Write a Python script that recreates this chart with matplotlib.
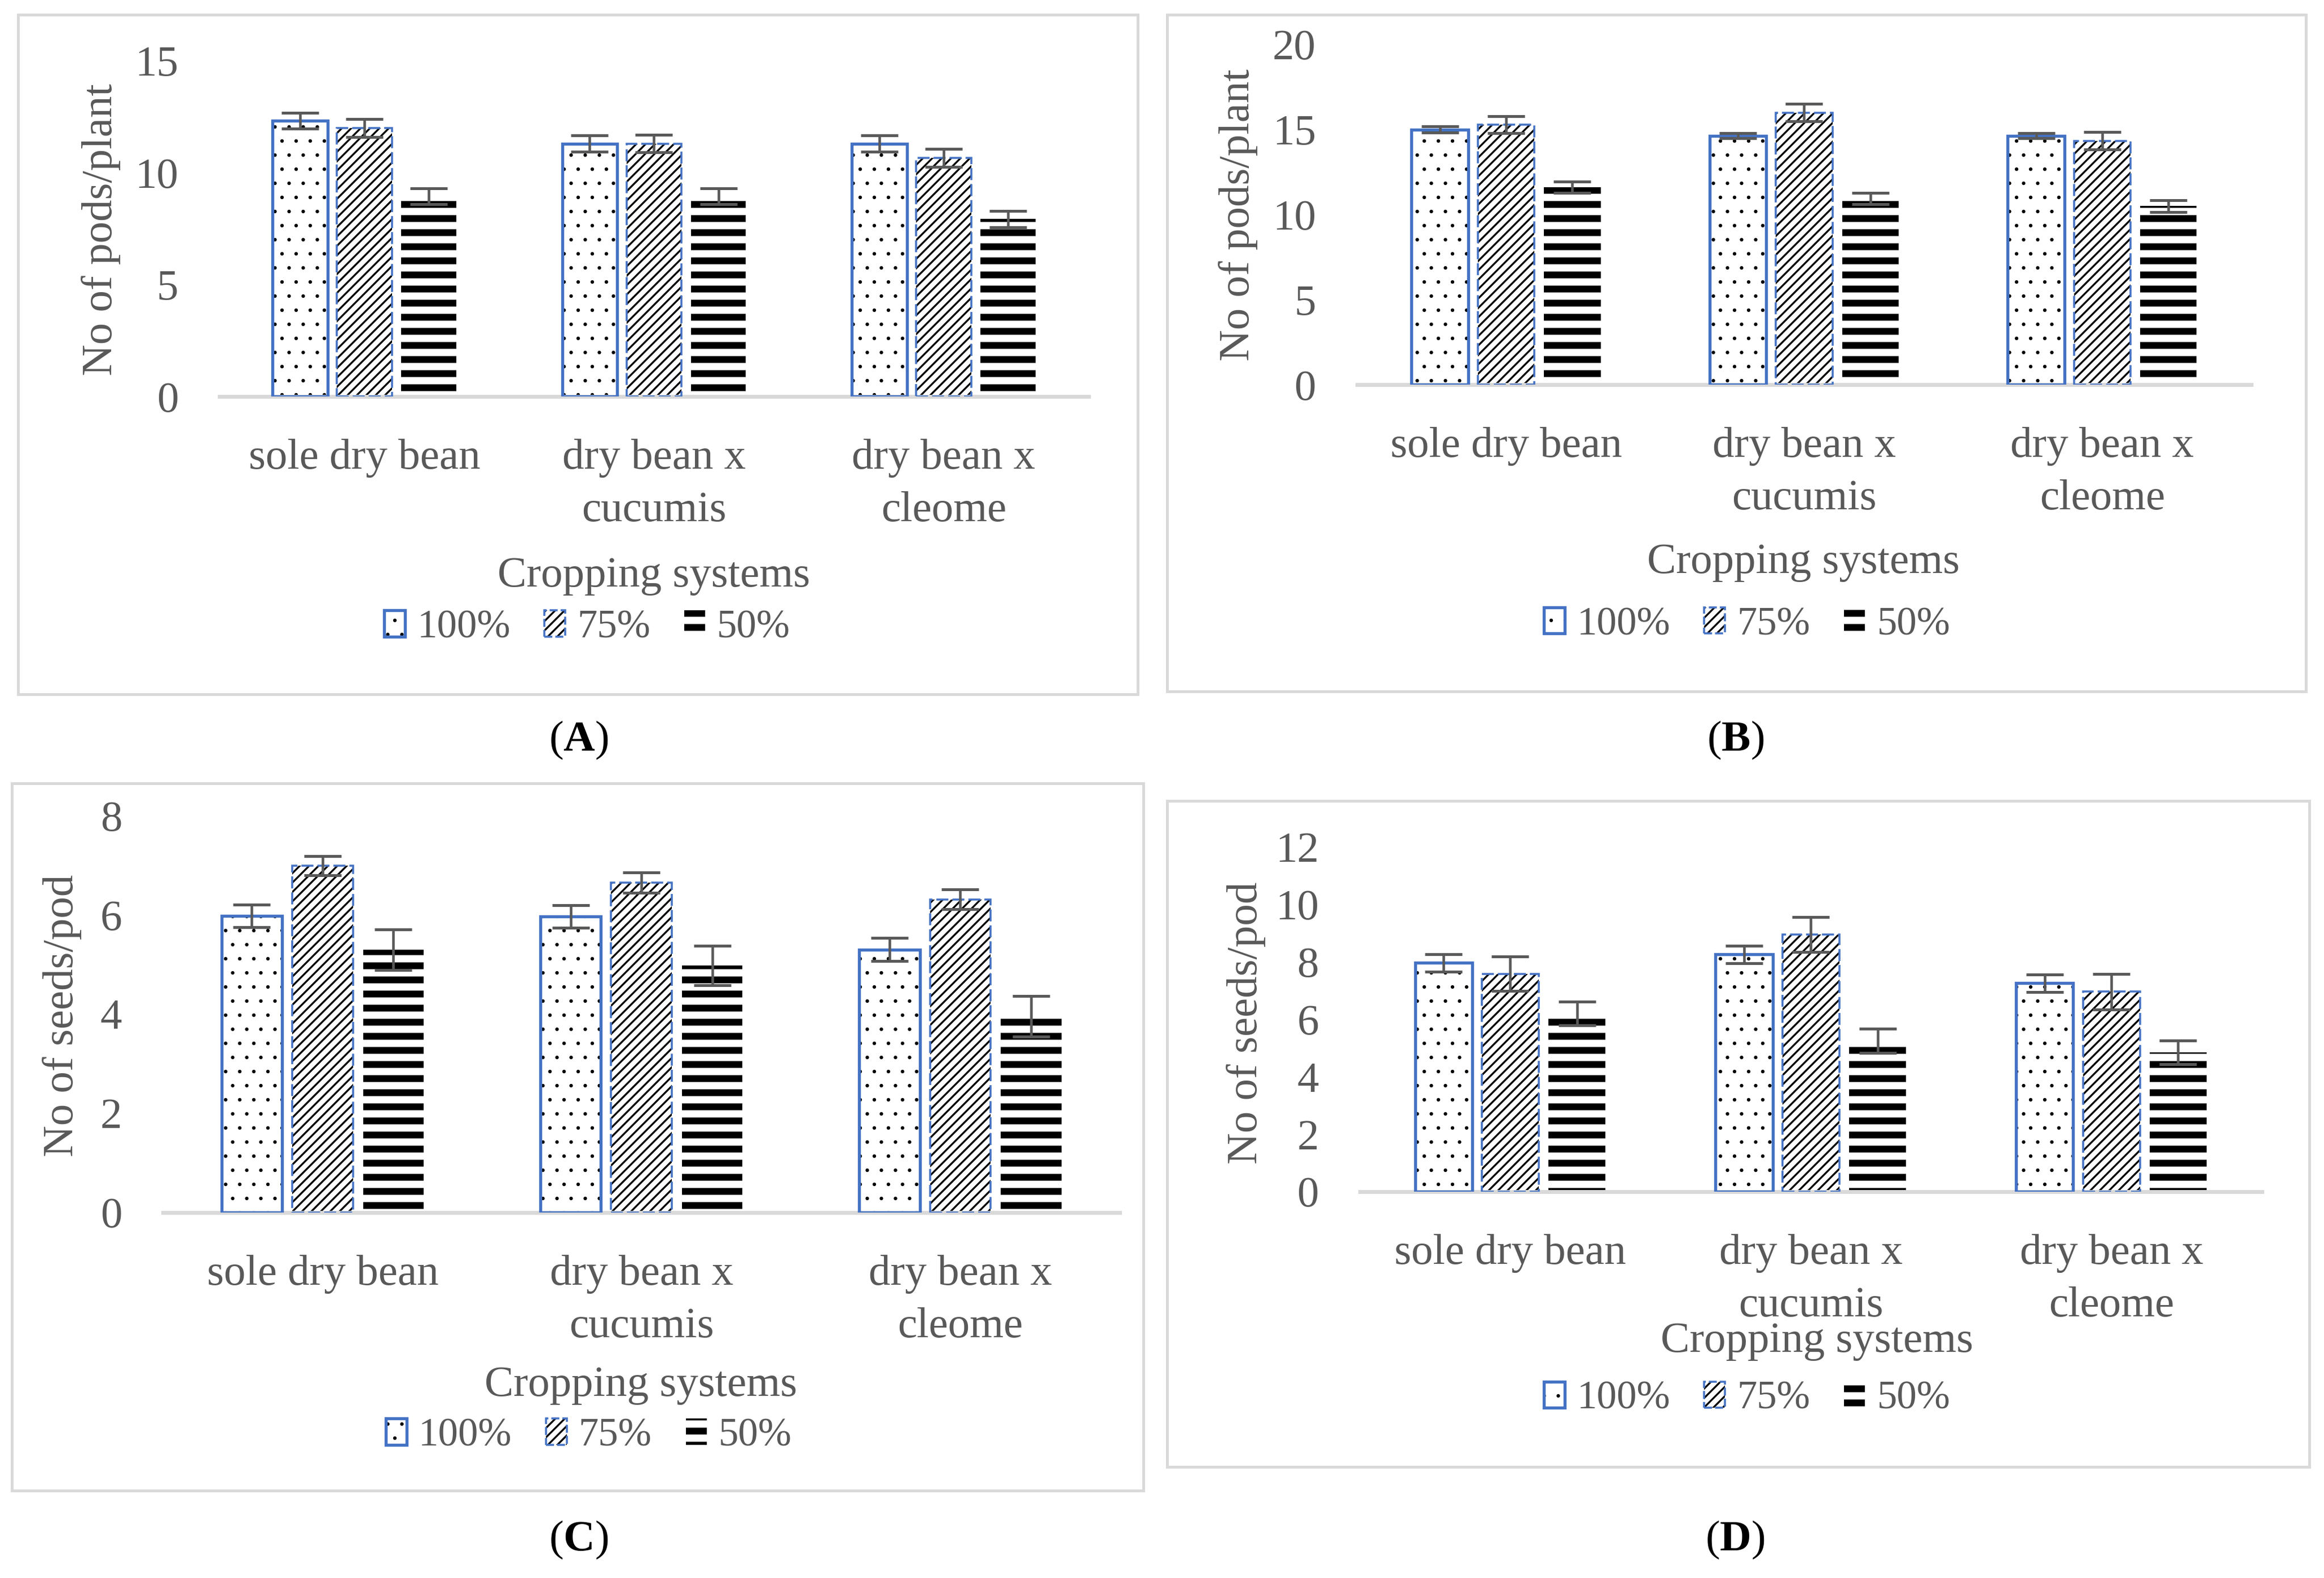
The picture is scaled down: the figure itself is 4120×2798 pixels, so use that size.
import matplotlib
matplotlib.use('Agg')
import matplotlib.pyplot as plt
import matplotlib.patches as mpatches
import numpy as np

plt.rcParams['font.family'] = ['Liberation Serif', 'DejaVu Serif']
plt.rcParams['mathtext.fontset'] = 'custom'
plt.rcParams['mathtext.rm'] = 'Liberation Serif'
plt.rcParams['mathtext.bf'] = 'Liberation Serif:bold'

categories = ['sole dry bean', 'dry bean x\ncucumis', 'dry bean x\ncleome']
levels = ['100%', '75%', '50%']

# rows: 100%, 75%, 50%
pods_a = [[12.33, 11.3, 11.3], [12.0, 11.3, 10.66], [8.94, 8.94, 7.93]]
pods_a_err = [[0.35, 0.36, 0.36], [0.4, 0.4, 0.4], [0.35, 0.35, 0.37]]
pods_b = [[15.0, 14.64, 14.64], [15.3, 15.99, 14.34], [11.6, 10.95, 10.5]]
pods_b_err = [[0.18, 0.14, 0.14], [0.5, 0.52, 0.51], [0.33, 0.32, 0.34]]
seeds_c = [[5.98, 5.97, 5.3], [6.99, 6.65, 6.31], [5.3, 4.98, 3.95]]
seeds_c_err = [[0.23, 0.23, 0.23], [0.19, 0.2, 0.2], [0.41, 0.4, 0.41]]
seeds_d = [[7.96, 8.25, 7.25], [7.58, 8.94, 6.96], [6.2, 5.25, 4.85]]
seeds_d_err = [[0.3, 0.31, 0.3], [0.6, 0.61, 0.62], [0.42, 0.42, 0.41]]

BLUE = '#4472C4'
GREY = '#595959'
LIGHT = '#D9D9D9'
HATCH = ['.', '///', '-']
HATCH_LW = [0.6, 1.6, 5.8]

W, H = 1567.0, 1066.0
fig = plt.figure(figsize=(4120 / 150, 2798 / 150), dpi=150)


def fx(px):
    return px / W


def fy(py):
    return 1 - py / H


def set_hlw(p, lw):
    if hasattr(p, 'set_hatch_linewidth'):
        p.set_hatch_linewidth(lw)


def panel(box, axbox, ymax, ystep, ylabel, ylab_xy, vals, errs, xt_xy, leg_xy, tag, tag_xy):
    x0, y0, x1, y1 = box
    fig.patches.append(mpatches.Rectangle((fx(x0), fy(y1)), fx(x1) - fx(x0), fy(y0) - fy(y1),
                                          transform=fig.transFigure, fill=False,
                                          edgecolor=LIGHT, linewidth=2.4))
    l, t, r, b = axbox
    ax = fig.add_axes([fx(l), fy(b), fx(r) - fx(l), fy(t) - fy(b)])
    ax.patch.set_alpha(0)
    x = np.arange(len(categories))
    offs = [-0.222, 0.0, 0.222]
    w = 0.19
    for i in range(3):
        bars = ax.bar(x + offs[i], vals[i], w, color='white', edgecolor='black',
                      hatch=HATCH[i], linewidth=0, zorder=2)
        for p in bars:
            set_hlw(p, HATCH_LW[i])
        if i == 0:
            ax.bar(x + offs[i], vals[i], w, facecolor='none', edgecolor=BLUE,
                   linewidth=2.6, zorder=3)
        elif i == 1:
            ax.bar(x + offs[i], vals[i], w, facecolor='none', edgecolor=BLUE,
                   linewidth=1.7, linestyle=(0, (6, 2)), zorder=3)
        ax.errorbar(x + offs[i], vals[i], yerr=errs[i], fmt='none', ecolor=GREY,
                    elinewidth=2.2, capsize=16, capthick=2.4, zorder=4)
    ax.set_xlim(-0.5, 2.5)
    ax.set_ylim(0, ymax)
    ax.set_yticks(np.arange(0, ymax + 0.01, ystep))
    ax.set_xticks(x)
    ax.set_xticklabels(categories, linespacing=1.45)
    for s in ['left', 'top', 'right']:
        ax.spines[s].set_visible(False)
    ax.spines['bottom'].set_color(LIGHT)
    ax.spines['bottom'].set_linewidth(3.3)
    ax.tick_params(axis='y', length=0, pad=35, labelsize=37, labelcolor=GREY)
    ax.tick_params(axis='x', length=0, pad=36, labelsize=37, labelcolor=GREY)

    fig.text(fx(ylab_xy[0]), fy(ylab_xy[1]), ylabel, rotation=90, ha='center', va='center',
             fontsize=37, color=GREY)
    fig.text(fx(xt_xy[0]), fy(xt_xy[1]), 'Cropping systems', ha='center', va='center',
             fontsize=37, color=GREY)

    handles = []
    for i in range(3):
        hp = mpatches.Patch(facecolor='white', edgecolor='black', hatch=HATCH[i], linewidth=0)
        if i == 0:
            op = mpatches.Patch(facecolor='none', edgecolor=BLUE, linewidth=2.6)
            handles.append((hp, op))
        elif i == 1:
            op = mpatches.Patch(facecolor='none', edgecolor=BLUE, linewidth=1.7, linestyle=(0, (4, 1.5)))
            handles.append((hp, op))
        else:
            handles.append(hp)
    leg = fig.legend(handles, levels, loc='center', bbox_to_anchor=(fx(leg_xy[0]), fy(leg_xy[1])),
                     ncols=3, frameon=False, fontsize=34, handlelength=0.52, handleheight=0.63,
                     handletextpad=0.3, columnspacing=0.85, borderpad=0)
    for txt in leg.get_texts():
        txt.set_color(GREY)
    for p in leg.findobj(match=mpatches.Rectangle):
        h = p.get_hatch()
        if h in HATCH:
            set_hlw(p, HATCH_LW[HATCH.index(h)])

    fig.text(fx(tag_xy[0]), fy(tag_xy[1]), r'($\mathbf{' + tag + '}$)', ha='center', va='center',
             fontsize=37, color='black')


panel((12, 10, 767, 469), (148, 41, 734, 268), 15, 5, 'No of pods/plant', (68, 155),
      pods_a, pods_a_err, (441, 389), (396, 424), 'A', (390, 500))
panel((787, 10, 1555, 467), (915, 30, 1518, 260), 20, 5, 'No of pods/plant', (835, 145),
      pods_b, pods_b_err, (1216, 380), (1178, 422), 'B', (1170, 500))
panel((8, 529, 771, 1007), (110, 551, 755, 819), 8, 2, 'No of seeds/pod', (42, 686),
      seeds_c, seeds_c_err, (432, 936), (397, 970), 'C', (390, 1040))
panel((787, 541, 1557, 991), (917, 572, 1525, 805), 12, 2, 'No of seeds/pod', (840, 691),
      seeds_d, seeds_d_err, (1225, 906), (1178, 945), 'D', (1170, 1040))

fig.savefig('out.png', dpi=150, facecolor='white')
